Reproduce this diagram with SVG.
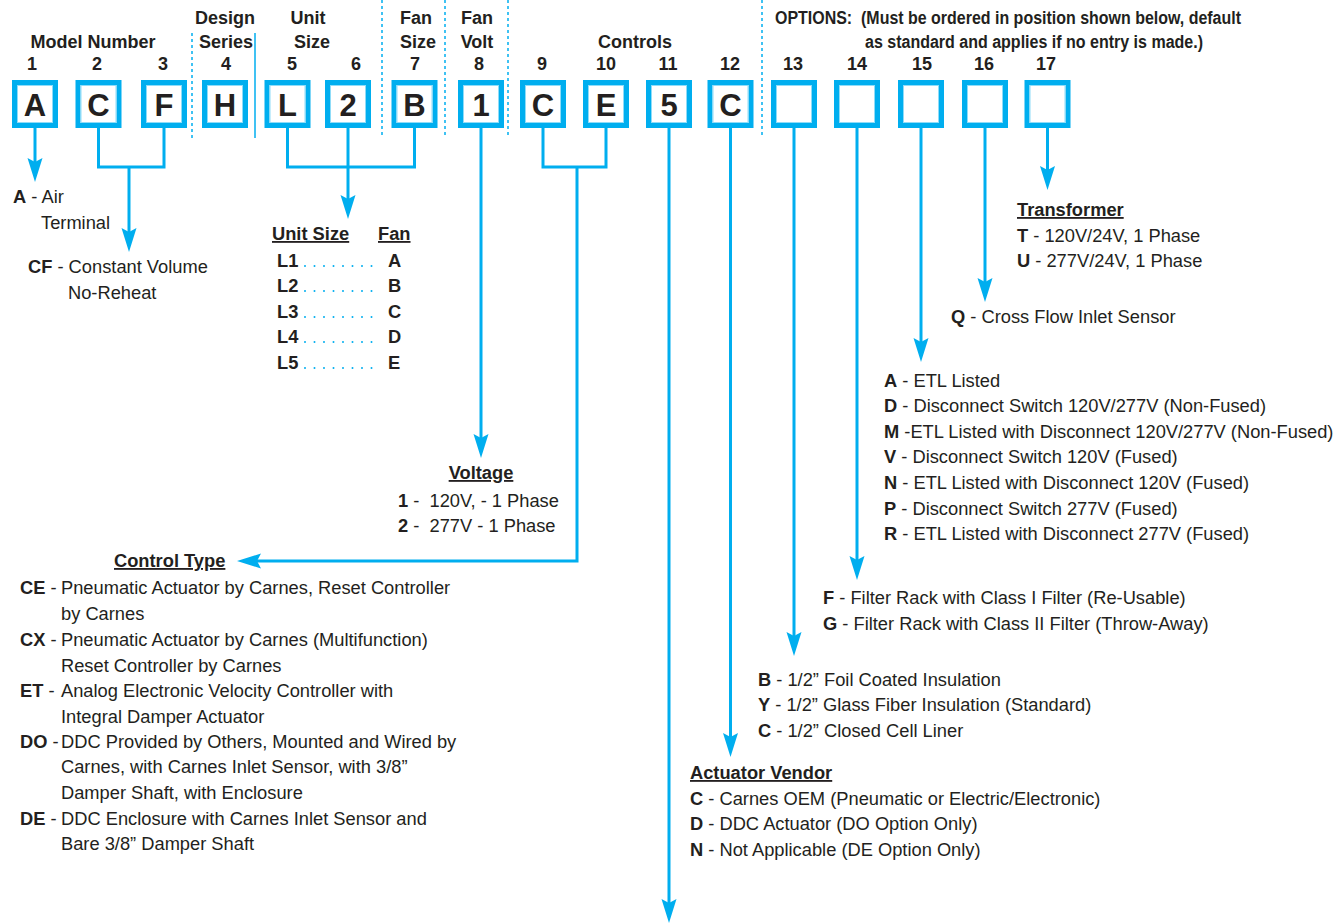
<svg xmlns="http://www.w3.org/2000/svg" width="1343" height="924" viewBox="0 0 1343 924">
<style>
text{font-family:"Liberation Sans",Arial,sans-serif;font-size:18.3px;fill:#231f20}
.b{font-weight:bold}
.h{font-weight:bold;text-anchor:middle;font-size:18px}
.u{font-weight:bold;text-decoration:underline}
.box rect.o{fill:#fff;stroke:#00aeef;stroke-width:5}
.box rect.i{fill:none;stroke:#8fdcf8;stroke-width:1}
.box text{font-size:31px;font-weight:bold;text-anchor:middle}
.c{fill:none;stroke:#00aeef;stroke-width:3}
.dash{stroke:#00aeef;stroke-width:1.5;stroke-dasharray:3 3}
.dots{stroke:#00aeef;stroke-width:2;stroke-linecap:round;stroke-dasharray:0 9.5}
</style>
<defs>
<marker id="ah" markerUnits="userSpaceOnUse" markerWidth="30" markerHeight="20" viewBox="0 -10 30 20" refX="18" refY="0" orient="auto" overflow="visible">
<path d="M0,-7.5 L24,0 L0,7.5 L4,0 z" fill="#00aeef"/>
</marker>
</defs>

<g id="header">
<text class="h" x="93" y="48">Model Number</text>
<text class="h" x="225" y="24">Design</text>
<text class="h" x="226" y="48">Series</text>
<text class="h" x="308" y="24">Unit</text>
<text class="h" x="312" y="48">Size</text>
<text class="h" x="416" y="24">Fan</text>
<text class="h" x="418" y="48">Size</text>
<text class="h" x="477" y="24">Fan</text>
<text class="h" x="477" y="48">Volt</text>
<text class="h" x="635" y="48">Controls</text>
<text class="b" x="775" y="24" font-size="18" textLength="466" lengthAdjust="spacingAndGlyphs" xml:space="preserve">OPTIONS:  (Must be ordered in position shown below, default</text>
<text class="b" x="865" y="48" font-size="18" textLength="338" lengthAdjust="spacingAndGlyphs">as standard and applies if no entry is made.)</text>
<text class="h" x="32" y="70">1</text>
<text class="h" x="97" y="70">2</text>
<text class="h" x="163" y="70">3</text>
<text class="h" x="226" y="70">4</text>
<text class="h" x="292" y="70">5</text>
<text class="h" x="356" y="70">6</text>
<text class="h" x="415" y="70">7</text>
<text class="h" x="479" y="70">8</text>
<text class="h" x="542" y="70">9</text>
<text class="h" x="606" y="70">10</text>
<text class="h" x="668" y="70">11</text>
<text class="h" x="730" y="70">12</text>
<text class="h" x="793" y="70">13</text>
<text class="h" x="857" y="70">14</text>
<text class="h" x="922" y="70">15</text>
<text class="h" x="984" y="70">16</text>
<text class="h" x="1046" y="70">17</text>
<line class="dash" x1="192" y1="33" x2="192" y2="138"/>
<line x1="255" y1="33" x2="255" y2="138" stroke="#00aeef" stroke-width="1.5"/>
<line class="dash" x1="382" y1="0" x2="382" y2="138"/>
<line class="dash" x1="445" y1="0" x2="445" y2="138"/>
<line class="dash" x1="508" y1="0" x2="508" y2="138"/>
<line class="dash" x1="762" y1="0" x2="762" y2="138"/>
</g>

<g id="box1" class="box"><rect class="o" x="14.5" y="82.5" width="41" height="43"/><rect class="i" x="17.5" y="85.5" width="35" height="37"/><text x="35" y="116">A</text></g>
<g id="box2" class="box"><rect class="o" x="78" y="82.5" width="41" height="43"/><rect class="i" x="81" y="85.5" width="35" height="37"/><text x="98.5" y="116">C</text></g>
<g id="box3" class="box"><rect class="o" x="143.5" y="82.5" width="41" height="43"/><rect class="i" x="146.5" y="85.5" width="35" height="37"/><text x="164" y="116">F</text></g>
<g id="box4" class="box"><rect class="o" x="204.5" y="82.5" width="41" height="43"/><rect class="i" x="207.5" y="85.5" width="35" height="37"/><text x="225" y="116">H</text></g>
<g id="box5" class="box"><rect class="o" x="267" y="82.5" width="41" height="43"/><rect class="i" x="270" y="85.5" width="35" height="37"/><text x="287.5" y="116">L</text></g>
<g id="box6" class="box"><rect class="o" x="327.5" y="82.5" width="41" height="43"/><rect class="i" x="330.5" y="85.5" width="35" height="37"/><text x="348" y="116">2</text></g>
<g id="box7" class="box"><rect class="o" x="394" y="82.5" width="41" height="43"/><rect class="i" x="397" y="85.5" width="35" height="37"/><text x="414.5" y="116">B</text></g>
<g id="box8" class="box"><rect class="o" x="460.5" y="82.5" width="41" height="43"/><rect class="i" x="463.5" y="85.5" width="35" height="37"/><text x="481" y="116">1</text></g>
<g id="box9" class="box"><rect class="o" x="522.5" y="82.5" width="41" height="43"/><rect class="i" x="525.5" y="85.5" width="35" height="37"/><text x="543" y="116">C</text></g>
<g id="box10" class="box"><rect class="o" x="585.5" y="82.5" width="41" height="43"/><rect class="i" x="588.5" y="85.5" width="35" height="37"/><text x="606" y="116">E</text></g>
<g id="box11" class="box"><rect class="o" x="648.5" y="82.5" width="41" height="43"/><rect class="i" x="651.5" y="85.5" width="35" height="37"/><text x="669" y="116">5</text></g>
<g id="box12" class="box"><rect class="o" x="710" y="82.5" width="41" height="43"/><rect class="i" x="713" y="85.5" width="35" height="37"/><text x="730.5" y="116">C</text></g>
<g id="box13" class="box"><rect class="o" x="773.5" y="82.5" width="41" height="43"/><rect class="i" x="776.5" y="85.5" width="35" height="37"/></g>
<g id="box14" class="box"><rect class="o" x="836.5" y="82.5" width="41" height="43"/><rect class="i" x="839.5" y="85.5" width="35" height="37"/></g>
<g id="box15" class="box"><rect class="o" x="900.5" y="82.5" width="41" height="43"/><rect class="i" x="903.5" y="85.5" width="35" height="37"/></g>
<g id="box16" class="box"><rect class="o" x="964.5" y="82.5" width="41" height="43"/><rect class="i" x="967.5" y="85.5" width="35" height="37"/></g>
<g id="box17" class="box"><rect class="o" x="1027" y="82.5" width="41" height="43"/><rect class="i" x="1030" y="85.5" width="35" height="37"/></g>

<g id="connectors">
<path class="c" d="M35,128 V176" marker-end="url(#ah)"/>
<path class="c" d="M98.5,128 V167 H164 V128"/>
<path class="c" d="M129,167 V246" marker-end="url(#ah)"/>
<path class="c" d="M287.5,128 V167 H414.5 V128"/>
<path class="c" d="M348,128 V213" marker-end="url(#ah)"/>
<path class="c" d="M481,128 V452" marker-end="url(#ah)"/>
<path class="c" d="M543,128 V167 H606 V128"/>
<path class="c" d="M577,167 V561 H243" marker-end="url(#ah)"/>
<path class="c" d="M669,128 V917" marker-end="url(#ah)"/>
<path class="c" d="M730.5,128 V751" marker-end="url(#ah)"/>
<path class="c" d="M794,128 V650" marker-end="url(#ah)"/>
<path class="c" d="M857,128 V574" marker-end="url(#ah)"/>
<path class="c" d="M921,128 V356" marker-end="url(#ah)"/>
<path class="c" d="M985,128 V296" marker-end="url(#ah)"/>
<path class="c" d="M1047.5,128 V184" marker-end="url(#ah)"/>
</g>

<g id="model">
<text x="13" y="203"><tspan class="b">A</tspan> - Air</text>
<text x="41" y="229">Terminal</text>
<text x="28" y="273"><tspan class="b">CF</tspan> - Constant Volume</text>
<text x="68" y="299">No-Reheat</text>
</g>

<g id="unitsize">
<text class="u" x="272" y="240">Unit Size</text>
<text class="u" x="378" y="240">Fan</text>
<text class="b" x="277" y="267">L1</text><line class="dots" x1="305" y1="266" x2="381" y2="266"/><text class="b" x="388" y="267">A</text>
<text class="b" x="277" y="292">L2</text><line class="dots" x1="305" y1="291" x2="381" y2="291"/><text class="b" x="388" y="292">B</text>
<text class="b" x="277" y="318">L3</text><line class="dots" x1="305" y1="317" x2="381" y2="317"/><text class="b" x="388" y="318">C</text>
<text class="b" x="277" y="343">L4</text><line class="dots" x1="305" y1="342" x2="381" y2="342"/><text class="b" x="388" y="343">D</text>
<text class="b" x="277" y="369">L5</text><line class="dots" x1="305" y1="368" x2="381" y2="368"/><text class="b" x="388" y="369">E</text>
</g>

<g id="voltage">
<text class="u" x="481" y="479" text-anchor="middle">Voltage</text>
<text x="398" y="507" xml:space="preserve"><tspan class="b">1</tspan> -  120V, - 1 Phase</text>
<text x="398" y="532" xml:space="preserve"><tspan class="b">2</tspan> -  277V - 1 Phase</text>
</g>

<g id="controltype">
<text class="u" x="114" y="567">Control Type</text>
<text x="20" y="594"><tspan class="b">CE</tspan> -</text><text x="61" y="594">Pneumatic Actuator by Carnes, Reset Controller</text>
<text x="61" y="620">by Carnes</text>
<text x="20" y="646"><tspan class="b">CX</tspan> -</text><text x="61" y="646">Pneumatic Actuator by Carnes (Multifunction)</text>
<text x="61" y="672">Reset Controller by Carnes</text>
<text x="20" y="697"><tspan class="b">ET</tspan> -</text><text x="61" y="697">Analog Electronic Velocity Controller with</text>
<text x="61" y="723">Integral Damper Actuator</text>
<text x="20" y="748"><tspan class="b">DO</tspan> -</text><text x="61" y="748">DDC Provided by Others, Mounted and Wired by</text>
<text x="61" y="773">Carnes, with Carnes Inlet Sensor, with 3/8”</text>
<text x="61" y="799">Damper Shaft, with Enclosure</text>
<text x="20" y="825"><tspan class="b">DE</tspan> -</text><text x="61" y="825">DDC Enclosure with Carnes Inlet Sensor and</text>
<text x="61" y="850">Bare 3/8” Damper Shaft</text>
</g>

<g id="actuator">
<text class="u" x="690" y="779">Actuator Vendor</text>
<text x="690" y="805"><tspan class="b">C</tspan> - Carnes OEM (Pneumatic or Electric/Electronic)</text>
<text x="690" y="830"><tspan class="b">D</tspan> - DDC Actuator (DO Option Only)</text>
<text x="690" y="856"><tspan class="b">N</tspan> - Not Applicable (DE Option Only)</text>
</g>

<g id="insulation">
<text x="758" y="686"><tspan class="b">B</tspan> - 1/2” Foil Coated Insulation</text>
<text x="758" y="711"><tspan class="b">Y</tspan> - 1/2” Glass Fiber Insulation (Standard)</text>
<text x="758" y="737"><tspan class="b">C</tspan> - 1/2” Closed Cell Liner</text>
</g>

<g id="filter">
<text x="823" y="604"><tspan class="b">F</tspan> - Filter Rack with Class I Filter (Re-Usable)</text>
<text x="823" y="630"><tspan class="b">G</tspan> - Filter Rack with Class II Filter (Throw-Away)</text>
</g>

<g id="electrical">
<text x="884" y="387"><tspan class="b">A</tspan> - ETL Listed</text>
<text x="884" y="412"><tspan class="b">D</tspan> - Disconnect Switch 120V/277V (Non-Fused)</text>
<text x="884" y="438"><tspan class="b">M</tspan> -ETL Listed with Disconnect 120V/277V (Non-Fused)</text>
<text x="884" y="463"><tspan class="b">V</tspan> - Disconnect Switch 120V (Fused)</text>
<text x="884" y="489"><tspan class="b">N</tspan> - ETL Listed with Disconnect 120V (Fused)</text>
<text x="884" y="515"><tspan class="b">P</tspan> - Disconnect Switch 277V (Fused)</text>
<text x="884" y="540"><tspan class="b">R</tspan> - ETL Listed with Disconnect 277V (Fused)</text>
</g>

<g id="sensor">
<text x="951" y="323"><tspan class="b">Q</tspan> - Cross Flow Inlet Sensor</text>
</g>

<g id="transformer">
<text class="u" x="1017" y="216">Transformer</text>
<text x="1017" y="242"><tspan class="b">T</tspan> - 120V/24V, 1 Phase</text>
<text x="1017" y="267"><tspan class="b">U</tspan> - 277V/24V, 1 Phase</text>
</g>
</svg>
